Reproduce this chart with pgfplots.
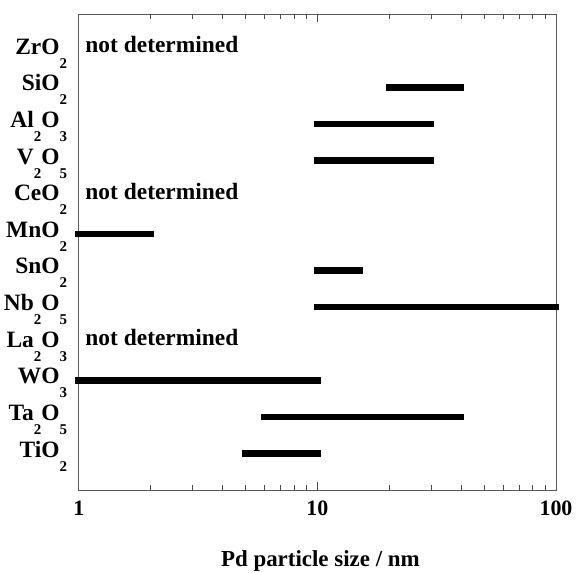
\documentclass[border=0pt]{standalone}
\usepackage{pgfplots}
\pgfplotsset{compat=1.18}
\usepackage{fontspec}
\setmainfont{Liberation Serif}
\newcommand\sub[1]{\raisebox{-14bp}{\fontsize{15}{15}\selectfont #1}}
\pgfplotsset{
  range/.style={black, line width=6.5bp, line cap=rect, no marks, forget plot},
}
\tikzset{nd/.style={anchor=base west, inner sep=0pt, xshift=6.5bp, yshift=-2bp,
  font=\fontsize{23.5}{23.5}\selectfont\bfseries}}
\begin{document}
\begin{tikzpicture}
\begin{axis}[
  scale only axis,
  width=477bp, height=476bp,
  xmode=log, xmin=1, xmax=100,
  ymin=-1, ymax=12,
  clip=false,
  axis line style={black!65, line width=0.9bp},
  xtick={1,10,100},
  xticklabels={1,10,100},
  minor xtick={2,3,4,5,6,7,8,9,20,30,40,50,60,70,80,90},
  major tick length=8bp, minor tick length=5bp,
  tick align=inside,
  tick style={black!70, line width=0.8bp},
  xticklabel style={font=\fontsize{22}{22}\selectfont\bfseries, anchor=base, yshift=-25.5bp},
  /pgf/number format/assume math mode=true,
  ytick={0,...,11},
  yticklabels={TiO\sub{2}, Ta\sub{2}O\sub{5}, WO\sub{3}, La\sub{2}O\sub{3},
    Nb\sub{2}O\sub{5}, SnO\sub{2}, MnO\sub{2}, CeO\sub{2}, V\sub{2}O\sub{5},
    Al\sub{2}O\sub{3}, SiO\sub{2}, ZrO\sub{2}},
  ytick style={draw=none},
  yticklabel style={font=\fontsize{23.5}{23.5}\selectfont\bfseries, anchor=base east,
    inner sep=0pt, xshift=-11.5bp, yshift=-3.5bp},
  xlabel={Pd particle size / nm},
  xlabel style={font=\fontsize{23}{23}\selectfont\bfseries,
    at={(axis description cs:0.5,0)}, anchor=base, xshift=3bp, yshift=-76.5bp},
]
% TiO2
\addplot[range] coordinates {(5,0) (10,0)};
% Ta2O5
\addplot[range] coordinates {(6,1) (40,1)};
% WO3
\addplot[range] coordinates {(1,2) (10,2)};
% Nb2O5
\addplot[range] coordinates {(10,4) (100,4)};
% SnO2
\addplot[range] coordinates {(10,5) (15,5)};
% MnO2
\addplot[range] coordinates {(1,6) (2,6)};
% V2O5
\addplot[range] coordinates {(10,8) (30,8)};
% Al2O3
\addplot[range] coordinates {(10,9) (30,9)};
% SiO2
\addplot[range] coordinates {(20,10) (40,10)};

\node[nd] at (axis cs:1,3) {not determined};
\node[nd] at (axis cs:1,7) {not determined};
\node[nd] at (axis cs:1,11) {not determined};
\end{axis}
\pgfresetboundingbox
\path ([shift={(-78.7bp,-82bp)}]current axis.south west)
  rectangle ([shift={(20bp,14bp)}]current axis.north east);
\end{tikzpicture}
\end{document}
